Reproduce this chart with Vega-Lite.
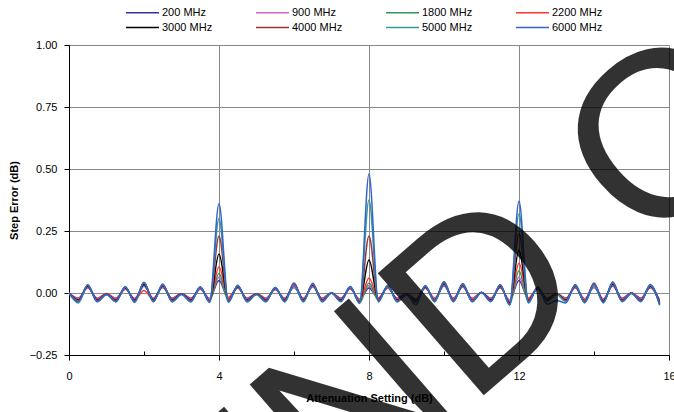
{
"$schema": "https://vega.github.io/schema/vega-lite/v6.json",
"width": 600,
"height": 310,
"autosize": {"type": "none"},
"padding": {"left": 69, "top": 45, "right": 5, "bottom": 57},
"background": "white",
"config": {"view": {"stroke": null}, "font": "Liberation Sans"},
"layer": [
{
"data": {"values": [
{"s":"200 MHz","x":0,"y":0.000},{"s":"200 MHz","x":0.25,"y":-0.021},{"s":"200 MHz","x":0.5,"y":0.021},{"s":"200 MHz","x":0.75,"y":-0.021},{"s":"200 MHz","x":1,"y":-0.004},{"s":"200 MHz","x":1.25,"y":-0.021},{"s":"200 MHz","x":1.5,"y":0.015},{"s":"200 MHz","x":1.75,"y":-0.022},{"s":"200 MHz","x":2,"y":0.027},{"s":"200 MHz","x":2.25,"y":-0.021},{"s":"200 MHz","x":2.5,"y":0.022},{"s":"200 MHz","x":2.75,"y":-0.021},{"s":"200 MHz","x":3,"y":-0.003},{"s":"200 MHz","x":3.25,"y":-0.021},{"s":"200 MHz","x":3.5,"y":0.015},{"s":"200 MHz","x":3.75,"y":-0.022},
{"s":"200 MHz","x":4,"y":0.050},{"s":"200 MHz","x":4.25,"y":-0.022},{"s":"200 MHz","x":4.5,"y":0.020},{"s":"200 MHz","x":4.75,"y":-0.021},{"s":"200 MHz","x":5,"y":-0.003},{"s":"200 MHz","x":5.25,"y":-0.021},{"s":"200 MHz","x":5.5,"y":0.014},{"s":"200 MHz","x":5.75,"y":-0.021},{"s":"200 MHz","x":6,"y":0.022},{"s":"200 MHz","x":6.25,"y":-0.021},{"s":"200 MHz","x":6.5,"y":0.025},{"s":"200 MHz","x":6.75,"y":-0.021},{"s":"200 MHz","x":7,"y":0.000},{"s":"200 MHz","x":7.25,"y":-0.021},{"s":"200 MHz","x":7.5,"y":0.016},{"s":"200 MHz","x":7.75,"y":-0.025},
{"s":"200 MHz","x":8,"y":0.020},{"s":"200 MHz","x":8.25,"y":-0.021},{"s":"200 MHz","x":8.5,"y":0.020},{"s":"200 MHz","x":8.75,"y":-0.021},{"s":"200 MHz","x":9,"y":-0.003},{"s":"200 MHz","x":9.25,"y":-0.024},{"s":"200 MHz","x":9.5,"y":0.019},{"s":"200 MHz","x":9.75,"y":-0.021},{"s":"200 MHz","x":10,"y":0.028},{"s":"200 MHz","x":10.25,"y":-0.021},{"s":"200 MHz","x":10.5,"y":0.024},{"s":"200 MHz","x":10.75,"y":-0.021},{"s":"200 MHz","x":11,"y":0.001},{"s":"200 MHz","x":11.25,"y":-0.021},{"s":"200 MHz","x":11.5,"y":0.021},{"s":"200 MHz","x":11.75,"y":-0.029},
{"s":"200 MHz","x":12,"y":0.050},{"s":"200 MHz","x":12.25,"y":-0.024},{"s":"200 MHz","x":12.5,"y":0.015},{"s":"200 MHz","x":12.75,"y":-0.021},{"s":"200 MHz","x":13,"y":-0.003},{"s":"200 MHz","x":13.25,"y":-0.021},{"s":"200 MHz","x":13.5,"y":0.021},{"s":"200 MHz","x":13.75,"y":-0.024},{"s":"200 MHz","x":14,"y":0.022},{"s":"200 MHz","x":14.25,"y":-0.024},{"s":"200 MHz","x":14.5,"y":0.028},{"s":"200 MHz","x":14.75,"y":-0.021},{"s":"200 MHz","x":15,"y":0.000},{"s":"200 MHz","x":15.25,"y":-0.021},{"s":"200 MHz","x":15.5,"y":0.021},{"s":"200 MHz","x":15.75,"y":-0.029},

{"s":"900 MHz","x":0,"y":0.000},{"s":"900 MHz","x":0.25,"y":-0.022},{"s":"900 MHz","x":0.5,"y":0.022},{"s":"900 MHz","x":0.75,"y":-0.022},{"s":"900 MHz","x":1,"y":-0.004},{"s":"900 MHz","x":1.25,"y":-0.022},{"s":"900 MHz","x":1.5,"y":0.016},{"s":"900 MHz","x":1.75,"y":-0.024},{"s":"900 MHz","x":2,"y":0.028},{"s":"900 MHz","x":2.25,"y":-0.022},{"s":"900 MHz","x":2.5,"y":0.024},{"s":"900 MHz","x":2.75,"y":-0.022},{"s":"900 MHz","x":3,"y":-0.003},{"s":"900 MHz","x":3.25,"y":-0.022},{"s":"900 MHz","x":3.5,"y":0.016},{"s":"900 MHz","x":3.75,"y":-0.024},
{"s":"900 MHz","x":4,"y":0.065},{"s":"900 MHz","x":4.25,"y":-0.024},{"s":"900 MHz","x":4.5,"y":0.021},{"s":"900 MHz","x":4.75,"y":-0.022},{"s":"900 MHz","x":5,"y":-0.003},{"s":"900 MHz","x":5.25,"y":-0.022},{"s":"900 MHz","x":5.5,"y":0.015},{"s":"900 MHz","x":5.75,"y":-0.022},{"s":"900 MHz","x":6,"y":0.024},{"s":"900 MHz","x":6.25,"y":-0.022},{"s":"900 MHz","x":6.5,"y":0.026},{"s":"900 MHz","x":6.75,"y":-0.022},{"s":"900 MHz","x":7,"y":0.000},{"s":"900 MHz","x":7.25,"y":-0.022},{"s":"900 MHz","x":7.5,"y":0.017},{"s":"900 MHz","x":7.75,"y":-0.027},
{"s":"900 MHz","x":8,"y":0.030},{"s":"900 MHz","x":8.25,"y":-0.022},{"s":"900 MHz","x":8.5,"y":0.021},{"s":"900 MHz","x":8.75,"y":-0.022},{"s":"900 MHz","x":9,"y":-0.003},{"s":"900 MHz","x":9.25,"y":-0.025},{"s":"900 MHz","x":9.5,"y":0.020},{"s":"900 MHz","x":9.75,"y":-0.022},{"s":"900 MHz","x":10,"y":0.030},{"s":"900 MHz","x":10.25,"y":-0.022},{"s":"900 MHz","x":10.5,"y":0.025},{"s":"900 MHz","x":10.75,"y":-0.022},{"s":"900 MHz","x":11,"y":0.001},{"s":"900 MHz","x":11.25,"y":-0.022},{"s":"900 MHz","x":11.5,"y":0.022},{"s":"900 MHz","x":11.75,"y":-0.031},
{"s":"900 MHz","x":12,"y":0.065},{"s":"900 MHz","x":12.25,"y":-0.025},{"s":"900 MHz","x":12.5,"y":0.016},{"s":"900 MHz","x":12.75,"y":-0.022},{"s":"900 MHz","x":13,"y":-0.003},{"s":"900 MHz","x":13.25,"y":-0.022},{"s":"900 MHz","x":13.5,"y":0.022},{"s":"900 MHz","x":13.75,"y":-0.025},{"s":"900 MHz","x":14,"y":0.024},{"s":"900 MHz","x":14.25,"y":-0.025},{"s":"900 MHz","x":14.5,"y":0.030},{"s":"900 MHz","x":14.75,"y":-0.022},{"s":"900 MHz","x":15,"y":0.000},{"s":"900 MHz","x":15.25,"y":-0.022},{"s":"900 MHz","x":15.5,"y":0.022},{"s":"900 MHz","x":15.75,"y":-0.031},

{"s":"1800 MHz","x":0,"y":0.000},{"s":"1800 MHz","x":0.25,"y":-0.034},{"s":"1800 MHz","x":0.5,"y":0.028},{"s":"1800 MHz","x":0.75,"y":-0.032},{"s":"1800 MHz","x":1,"y":-0.006},{"s":"1800 MHz","x":1.25,"y":-0.031},{"s":"1800 MHz","x":1.5,"y":0.024},{"s":"1800 MHz","x":1.75,"y":-0.034},{"s":"1800 MHz","x":2,"y":0.036},{"s":"1800 MHz","x":2.25,"y":-0.032},{"s":"1800 MHz","x":2.5,"y":0.030},{"s":"1800 MHz","x":2.75,"y":-0.032},{"s":"1800 MHz","x":3,"y":-0.005},{"s":"1800 MHz","x":3.25,"y":-0.031},{"s":"1800 MHz","x":3.5,"y":0.021},{"s":"1800 MHz","x":3.75,"y":-0.033},
{"s":"1800 MHz","x":4,"y":0.080},{"s":"1800 MHz","x":4.25,"y":-0.033},{"s":"1800 MHz","x":4.5,"y":0.027},{"s":"1800 MHz","x":4.75,"y":-0.031},{"s":"1800 MHz","x":5,"y":-0.006},{"s":"1800 MHz","x":5.25,"y":-0.032},{"s":"1800 MHz","x":5.5,"y":0.022},{"s":"1800 MHz","x":5.75,"y":-0.031},{"s":"1800 MHz","x":6,"y":0.030},{"s":"1800 MHz","x":6.25,"y":-0.032},{"s":"1800 MHz","x":6.5,"y":0.033},{"s":"1800 MHz","x":6.75,"y":-0.031},{"s":"1800 MHz","x":7,"y":0.001},{"s":"1800 MHz","x":7.25,"y":-0.031},{"s":"1800 MHz","x":7.5,"y":0.025},{"s":"1800 MHz","x":7.75,"y":-0.040},
{"s":"1800 MHz","x":8,"y":0.040},{"s":"1800 MHz","x":8.25,"y":-0.030},{"s":"1800 MHz","x":8.5,"y":0.026},{"s":"1800 MHz","x":8.75,"y":-0.032},{"s":"1800 MHz","x":9,"y":-0.006},{"s":"1800 MHz","x":9.25,"y":-0.036},{"s":"1800 MHz","x":9.5,"y":0.025},{"s":"1800 MHz","x":9.75,"y":-0.032},{"s":"1800 MHz","x":10,"y":0.037},{"s":"1800 MHz","x":10.25,"y":-0.032},{"s":"1800 MHz","x":10.5,"y":0.032},{"s":"1800 MHz","x":10.75,"y":-0.031},{"s":"1800 MHz","x":11,"y":0.001},{"s":"1800 MHz","x":11.25,"y":-0.031},{"s":"1800 MHz","x":11.5,"y":0.032},{"s":"1800 MHz","x":11.75,"y":-0.046},
{"s":"1800 MHz","x":12,"y":0.090},{"s":"1800 MHz","x":12.25,"y":-0.036},{"s":"1800 MHz","x":12.5,"y":0.020},{"s":"1800 MHz","x":12.75,"y":-0.031},{"s":"1800 MHz","x":13,"y":-0.005},{"s":"1800 MHz","x":13.25,"y":-0.031},{"s":"1800 MHz","x":13.5,"y":0.028},{"s":"1800 MHz","x":13.75,"y":-0.036},{"s":"1800 MHz","x":14,"y":0.030},{"s":"1800 MHz","x":14.25,"y":-0.035},{"s":"1800 MHz","x":14.5,"y":0.038},{"s":"1800 MHz","x":14.75,"y":-0.032},{"s":"1800 MHz","x":15,"y":-0.001},{"s":"1800 MHz","x":15.25,"y":-0.031},{"s":"1800 MHz","x":15.5,"y":0.028},{"s":"1800 MHz","x":15.75,"y":-0.044},

{"s":"2200 MHz","x":0,"y":0.000},{"s":"2200 MHz","x":0.25,"y":-0.026},{"s":"2200 MHz","x":0.5,"y":0.026},{"s":"2200 MHz","x":0.75,"y":-0.026},{"s":"2200 MHz","x":1,"y":-0.002},{"s":"2200 MHz","x":1.25,"y":-0.026},{"s":"2200 MHz","x":1.5,"y":0.019},{"s":"2200 MHz","x":1.75,"y":-0.027},{"s":"2200 MHz","x":2,"y":0.010},{"s":"2200 MHz","x":2.25,"y":-0.026},{"s":"2200 MHz","x":2.5,"y":0.027},{"s":"2200 MHz","x":2.75,"y":-0.026},{"s":"2200 MHz","x":3,"y":-0.003},{"s":"2200 MHz","x":3.25,"y":-0.026},{"s":"2200 MHz","x":3.5,"y":0.020},{"s":"2200 MHz","x":3.75,"y":-0.028},
{"s":"2200 MHz","x":4,"y":0.105},{"s":"2200 MHz","x":4.25,"y":-0.018},{"s":"2200 MHz","x":4.5,"y":0.024},{"s":"2200 MHz","x":4.75,"y":-0.026},{"s":"2200 MHz","x":5,"y":-0.003},{"s":"2200 MHz","x":5.25,"y":-0.026},{"s":"2200 MHz","x":5.5,"y":0.017},{"s":"2200 MHz","x":5.75,"y":-0.026},{"s":"2200 MHz","x":6,"y":0.030},{"s":"2200 MHz","x":6.25,"y":-0.026},{"s":"2200 MHz","x":6.5,"y":0.030},{"s":"2200 MHz","x":6.75,"y":-0.026},{"s":"2200 MHz","x":7,"y":0.000},{"s":"2200 MHz","x":7.25,"y":-0.026},{"s":"2200 MHz","x":7.5,"y":0.020},{"s":"2200 MHz","x":7.75,"y":-0.031},
{"s":"2200 MHz","x":8,"y":0.060},{"s":"2200 MHz","x":8.25,"y":-0.020},{"s":"2200 MHz","x":8.5,"y":0.024},{"s":"2200 MHz","x":8.75,"y":-0.026},{"s":"2200 MHz","x":9,"y":-0.003},{"s":"2200 MHz","x":9.25,"y":-0.029},{"s":"2200 MHz","x":9.5,"y":0.023},{"s":"2200 MHz","x":9.75,"y":-0.026},{"s":"2200 MHz","x":10,"y":0.036},{"s":"2200 MHz","x":10.25,"y":-0.026},{"s":"2200 MHz","x":10.5,"y":0.029},{"s":"2200 MHz","x":10.75,"y":-0.026},{"s":"2200 MHz","x":11,"y":0.002},{"s":"2200 MHz","x":11.25,"y":-0.026},{"s":"2200 MHz","x":11.5,"y":0.026},{"s":"2200 MHz","x":11.75,"y":-0.036},
{"s":"2200 MHz","x":12,"y":0.120},{"s":"2200 MHz","x":12.25,"y":-0.020},{"s":"2200 MHz","x":12.5,"y":0.019},{"s":"2200 MHz","x":12.75,"y":-0.026},{"s":"2200 MHz","x":13,"y":-0.003},{"s":"2200 MHz","x":13.25,"y":-0.026},{"s":"2200 MHz","x":13.5,"y":0.026},{"s":"2200 MHz","x":13.75,"y":-0.029},{"s":"2200 MHz","x":14,"y":0.034},{"s":"2200 MHz","x":14.25,"y":-0.029},{"s":"2200 MHz","x":14.5,"y":0.034},{"s":"2200 MHz","x":14.75,"y":-0.026},{"s":"2200 MHz","x":15,"y":0.000},{"s":"2200 MHz","x":15.25,"y":-0.026},{"s":"2200 MHz","x":15.5,"y":0.026},{"s":"2200 MHz","x":15.75,"y":-0.036},

{"s":"3000 MHz","x":0,"y":0.000},{"s":"3000 MHz","x":0.25,"y":-0.029},{"s":"3000 MHz","x":0.5,"y":0.028},{"s":"3000 MHz","x":0.75,"y":-0.029},{"s":"3000 MHz","x":1,"y":-0.005},{"s":"3000 MHz","x":1.25,"y":-0.029},{"s":"3000 MHz","x":1.5,"y":0.021},{"s":"3000 MHz","x":1.75,"y":-0.030},{"s":"3000 MHz","x":2,"y":0.034},{"s":"3000 MHz","x":2.25,"y":-0.029},{"s":"3000 MHz","x":2.5,"y":0.030},{"s":"3000 MHz","x":2.75,"y":-0.029},{"s":"3000 MHz","x":3,"y":-0.004},{"s":"3000 MHz","x":3.25,"y":-0.029},{"s":"3000 MHz","x":3.5,"y":0.022},{"s":"3000 MHz","x":3.75,"y":-0.033},
{"s":"3000 MHz","x":4,"y":0.157},{"s":"3000 MHz","x":4.25,"y":-0.030},{"s":"3000 MHz","x":4.5,"y":0.026},{"s":"3000 MHz","x":4.75,"y":-0.029},{"s":"3000 MHz","x":5,"y":-0.004},{"s":"3000 MHz","x":5.25,"y":-0.029},{"s":"3000 MHz","x":5.5,"y":0.019},{"s":"3000 MHz","x":5.75,"y":-0.029},{"s":"3000 MHz","x":6,"y":0.034},{"s":"3000 MHz","x":6.25,"y":-0.029},{"s":"3000 MHz","x":6.5,"y":0.033},{"s":"3000 MHz","x":6.75,"y":-0.030},{"s":"3000 MHz","x":7,"y":0.000},{"s":"3000 MHz","x":7.25,"y":-0.029},{"s":"3000 MHz","x":7.5,"y":0.024},{"s":"3000 MHz","x":7.75,"y":-0.036},
{"s":"3000 MHz","x":8,"y":0.133},{"s":"3000 MHz","x":8.25,"y":-0.028},{"s":"3000 MHz","x":8.5,"y":0.028},{"s":"3000 MHz","x":8.75,"y":-0.029},{"s":"3000 MHz","x":9,"y":-0.005},{"s":"3000 MHz","x":9.25,"y":-0.032},{"s":"3000 MHz","x":9.5,"y":0.025},{"s":"3000 MHz","x":9.75,"y":-0.031},{"s":"3000 MHz","x":10,"y":0.038},{"s":"3000 MHz","x":10.25,"y":-0.031},{"s":"3000 MHz","x":10.5,"y":0.032},{"s":"3000 MHz","x":10.75,"y":-0.031},{"s":"3000 MHz","x":11,"y":0.002},{"s":"3000 MHz","x":11.25,"y":-0.029},{"s":"3000 MHz","x":11.5,"y":0.028},{"s":"3000 MHz","x":11.75,"y":-0.040},
{"s":"3000 MHz","x":12,"y":0.173},{"s":"3000 MHz","x":12.25,"y":-0.030},{"s":"3000 MHz","x":12.5,"y":0.021},{"s":"3000 MHz","x":12.75,"y":-0.029},{"s":"3000 MHz","x":13,"y":-0.004},{"s":"3000 MHz","x":13.25,"y":-0.029},{"s":"3000 MHz","x":13.5,"y":0.028},{"s":"3000 MHz","x":13.75,"y":-0.035},{"s":"3000 MHz","x":14,"y":0.033},{"s":"3000 MHz","x":14.25,"y":-0.033},{"s":"3000 MHz","x":14.5,"y":0.036},{"s":"3000 MHz","x":14.75,"y":-0.030},{"s":"3000 MHz","x":15,"y":0.000},{"s":"3000 MHz","x":15.25,"y":-0.030},{"s":"3000 MHz","x":15.5,"y":0.028},{"s":"3000 MHz","x":15.75,"y":-0.040},

{"s":"4000 MHz","x":0,"y":0.000},{"s":"4000 MHz","x":0.25,"y":-0.031},{"s":"4000 MHz","x":0.5,"y":0.031},{"s":"4000 MHz","x":0.75,"y":-0.031},{"s":"4000 MHz","x":1,"y":-0.004},{"s":"4000 MHz","x":1.25,"y":-0.031},{"s":"4000 MHz","x":1.5,"y":0.023},{"s":"4000 MHz","x":1.75,"y":-0.032},{"s":"4000 MHz","x":2,"y":0.042},{"s":"4000 MHz","x":2.25,"y":-0.031},{"s":"4000 MHz","x":2.5,"y":0.032},{"s":"4000 MHz","x":2.75,"y":-0.031},{"s":"4000 MHz","x":3,"y":-0.004},{"s":"4000 MHz","x":3.25,"y":-0.031},{"s":"4000 MHz","x":3.5,"y":0.023},{"s":"4000 MHz","x":3.75,"y":-0.033},
{"s":"4000 MHz","x":4,"y":0.230},{"s":"4000 MHz","x":4.25,"y":-0.031},{"s":"4000 MHz","x":4.5,"y":0.028},{"s":"4000 MHz","x":4.75,"y":-0.031},{"s":"4000 MHz","x":5,"y":-0.004},{"s":"4000 MHz","x":5.25,"y":-0.031},{"s":"4000 MHz","x":5.5,"y":0.020},{"s":"4000 MHz","x":5.75,"y":-0.031},{"s":"4000 MHz","x":6,"y":0.040},{"s":"4000 MHz","x":6.25,"y":-0.031},{"s":"4000 MHz","x":6.5,"y":0.035},{"s":"4000 MHz","x":6.75,"y":-0.031},{"s":"4000 MHz","x":7,"y":0.001},{"s":"4000 MHz","x":7.25,"y":-0.031},{"s":"4000 MHz","x":7.5,"y":0.023},{"s":"4000 MHz","x":7.75,"y":-0.037},
{"s":"4000 MHz","x":8,"y":0.230},{"s":"4000 MHz","x":8.25,"y":-0.029},{"s":"4000 MHz","x":8.5,"y":0.028},{"s":"4000 MHz","x":8.75,"y":-0.031},{"s":"4000 MHz","x":9,"y":-0.004},{"s":"4000 MHz","x":9.25,"y":-0.034},{"s":"4000 MHz","x":9.5,"y":0.027},{"s":"4000 MHz","x":9.75,"y":-0.031},{"s":"4000 MHz","x":10,"y":0.045},{"s":"4000 MHz","x":10.25,"y":-0.031},{"s":"4000 MHz","x":10.5,"y":0.035},{"s":"4000 MHz","x":10.75,"y":-0.031},{"s":"4000 MHz","x":11,"y":0.003},{"s":"4000 MHz","x":11.25,"y":-0.031},{"s":"4000 MHz","x":11.5,"y":0.030},{"s":"4000 MHz","x":11.75,"y":-0.043},
{"s":"4000 MHz","x":12,"y":0.240},{"s":"4000 MHz","x":12.25,"y":-0.032},{"s":"4000 MHz","x":12.5,"y":0.023},{"s":"4000 MHz","x":12.75,"y":-0.031},{"s":"4000 MHz","x":13,"y":-0.004},{"s":"4000 MHz","x":13.25,"y":-0.031},{"s":"4000 MHz","x":13.5,"y":0.030},{"s":"4000 MHz","x":13.75,"y":-0.035},{"s":"4000 MHz","x":14,"y":0.040},{"s":"4000 MHz","x":14.25,"y":-0.035},{"s":"4000 MHz","x":14.5,"y":0.040},{"s":"4000 MHz","x":14.75,"y":-0.031},{"s":"4000 MHz","x":15,"y":0.000},{"s":"4000 MHz","x":15.25,"y":-0.031},{"s":"4000 MHz","x":15.5,"y":0.031},{"s":"4000 MHz","x":15.75,"y":-0.043},

{"s":"5000 MHz","x":0,"y":0.000},{"s":"5000 MHz","x":0.25,"y":-0.040},{"s":"5000 MHz","x":0.5,"y":0.032},{"s":"5000 MHz","x":0.75,"y":-0.036},{"s":"5000 MHz","x":1,"y":-0.007},{"s":"5000 MHz","x":1.25,"y":-0.036},{"s":"5000 MHz","x":1.5,"y":0.024},{"s":"5000 MHz","x":1.75,"y":-0.038},{"s":"5000 MHz","x":2,"y":0.040},{"s":"5000 MHz","x":2.25,"y":-0.036},{"s":"5000 MHz","x":2.5,"y":0.034},{"s":"5000 MHz","x":2.75,"y":-0.036},{"s":"5000 MHz","x":3,"y":-0.006},{"s":"5000 MHz","x":3.25,"y":-0.036},{"s":"5000 MHz","x":3.5,"y":0.023},{"s":"5000 MHz","x":3.75,"y":-0.038},
{"s":"5000 MHz","x":4,"y":0.300},{"s":"5000 MHz","x":4.25,"y":-0.037},{"s":"5000 MHz","x":4.5,"y":0.030},{"s":"5000 MHz","x":4.75,"y":-0.036},{"s":"5000 MHz","x":5,"y":-0.006},{"s":"5000 MHz","x":5.25,"y":-0.036},{"s":"5000 MHz","x":5.5,"y":0.022},{"s":"5000 MHz","x":5.75,"y":-0.036},{"s":"5000 MHz","x":6,"y":0.033},{"s":"5000 MHz","x":6.25,"y":-0.036},{"s":"5000 MHz","x":6.5,"y":0.037},{"s":"5000 MHz","x":6.75,"y":-0.036},{"s":"5000 MHz","x":7,"y":0.000},{"s":"5000 MHz","x":7.25,"y":-0.035},{"s":"5000 MHz","x":7.5,"y":0.025},{"s":"5000 MHz","x":7.75,"y":-0.042},
{"s":"5000 MHz","x":8,"y":0.375},{"s":"5000 MHz","x":8.25,"y":-0.036},{"s":"5000 MHz","x":8.5,"y":0.030},{"s":"5000 MHz","x":8.75,"y":-0.036},{"s":"5000 MHz","x":9,"y":-0.006},{"s":"5000 MHz","x":9.25,"y":-0.039},{"s":"5000 MHz","x":9.5,"y":0.028},{"s":"5000 MHz","x":9.75,"y":-0.036},{"s":"5000 MHz","x":10,"y":0.042},{"s":"5000 MHz","x":10.25,"y":-0.036},{"s":"5000 MHz","x":10.5,"y":0.035},{"s":"5000 MHz","x":10.75,"y":-0.036},{"s":"5000 MHz","x":11,"y":0.001},{"s":"5000 MHz","x":11.25,"y":-0.035},{"s":"5000 MHz","x":11.5,"y":0.033},{"s":"5000 MHz","x":11.75,"y":-0.050},
{"s":"5000 MHz","x":12,"y":0.320},{"s":"5000 MHz","x":12.25,"y":-0.040},{"s":"5000 MHz","x":12.5,"y":0.023},{"s":"5000 MHz","x":12.75,"y":-0.035},{"s":"5000 MHz","x":13,"y":-0.006},{"s":"5000 MHz","x":13.25,"y":-0.035},{"s":"5000 MHz","x":13.5,"y":0.031},{"s":"5000 MHz","x":13.75,"y":-0.040},{"s":"5000 MHz","x":14,"y":0.032},{"s":"5000 MHz","x":14.25,"y":-0.040},{"s":"5000 MHz","x":14.5,"y":0.041},{"s":"5000 MHz","x":14.75,"y":-0.035},{"s":"5000 MHz","x":15,"y":-0.002},{"s":"5000 MHz","x":15.25,"y":-0.035},{"s":"5000 MHz","x":15.5,"y":0.031},{"s":"5000 MHz","x":15.75,"y":-0.050},

{"s":"6000 MHz","x":0,"y":0.000},{"s":"6000 MHz","x":0.25,"y":-0.035},{"s":"6000 MHz","x":0.5,"y":0.033},{"s":"6000 MHz","x":0.75,"y":-0.034},{"s":"6000 MHz","x":1,"y":-0.006},{"s":"6000 MHz","x":1.25,"y":-0.034},{"s":"6000 MHz","x":1.5,"y":0.025},{"s":"6000 MHz","x":1.75,"y":-0.036},{"s":"6000 MHz","x":2,"y":0.043},{"s":"6000 MHz","x":2.25,"y":-0.034},{"s":"6000 MHz","x":2.5,"y":0.036},{"s":"6000 MHz","x":2.75,"y":-0.034},{"s":"6000 MHz","x":3,"y":-0.005},{"s":"6000 MHz","x":3.25,"y":-0.034},{"s":"6000 MHz","x":3.5,"y":0.025},{"s":"6000 MHz","x":3.75,"y":-0.036},
{"s":"6000 MHz","x":4,"y":0.360},{"s":"6000 MHz","x":4.25,"y":-0.036},{"s":"6000 MHz","x":4.5,"y":0.031},{"s":"6000 MHz","x":4.75,"y":-0.034},{"s":"6000 MHz","x":5,"y":-0.005},{"s":"6000 MHz","x":5.25,"y":-0.034},{"s":"6000 MHz","x":5.5,"y":0.022},{"s":"6000 MHz","x":5.75,"y":-0.034},{"s":"6000 MHz","x":6,"y":0.036},{"s":"6000 MHz","x":6.25,"y":-0.034},{"s":"6000 MHz","x":6.5,"y":0.039},{"s":"6000 MHz","x":6.75,"y":-0.034},{"s":"6000 MHz","x":7,"y":0.000},{"s":"6000 MHz","x":7.25,"y":-0.034},{"s":"6000 MHz","x":7.5,"y":0.026},{"s":"6000 MHz","x":7.75,"y":-0.041},
{"s":"6000 MHz","x":8,"y":0.480},{"s":"6000 MHz","x":8.25,"y":-0.034},{"s":"6000 MHz","x":8.5,"y":0.031},{"s":"6000 MHz","x":8.75,"y":-0.034},{"s":"6000 MHz","x":9,"y":-0.008},{"s":"6000 MHz","x":9.25,"y":-0.048},{"s":"6000 MHz","x":9.5,"y":0.030},{"s":"6000 MHz","x":9.75,"y":-0.034},{"s":"6000 MHz","x":10,"y":0.045},{"s":"6000 MHz","x":10.25,"y":-0.034},{"s":"6000 MHz","x":10.5,"y":0.038},{"s":"6000 MHz","x":10.75,"y":-0.034},{"s":"6000 MHz","x":11,"y":0.002},{"s":"6000 MHz","x":11.25,"y":-0.034},{"s":"6000 MHz","x":11.5,"y":0.034},{"s":"6000 MHz","x":11.75,"y":-0.047},
{"s":"6000 MHz","x":12,"y":0.370},{"s":"6000 MHz","x":12.25,"y":-0.038},{"s":"6000 MHz","x":12.5,"y":0.024},{"s":"6000 MHz","x":12.75,"y":-0.045},{"s":"6000 MHz","x":13,"y":-0.030},{"s":"6000 MHz","x":13.25,"y":-0.040},{"s":"6000 MHz","x":13.5,"y":0.034},{"s":"6000 MHz","x":13.75,"y":-0.038},{"s":"6000 MHz","x":14,"y":0.036},{"s":"6000 MHz","x":14.25,"y":-0.038},{"s":"6000 MHz","x":14.5,"y":0.045},{"s":"6000 MHz","x":14.75,"y":-0.034},{"s":"6000 MHz","x":15,"y":0.000},{"s":"6000 MHz","x":15.25,"y":-0.034},{"s":"6000 MHz","x":15.5,"y":0.034},{"s":"6000 MHz","x":15.75,"y":-0.047}
]},
"mark": {"type": "line", "interpolate": "monotone", "strokeWidth": 1.5},
"encoding": {
"x": {"field": "x", "type": "quantitative",
 "scale": {"domain": [0, 16], "nice": false, "zero": false},
 "axis": {"title": "Attenuation Setting (dB)",
  "values": [0,0.25,0.5,0.75,1,1.25,1.5,1.75,2,2.25,2.5,2.75,3,3.25,3.5,3.75,4,4.25,4.5,4.75,5,5.25,5.5,5.75,6,6.25,6.5,6.75,7,7.25,7.5,7.75,8,8.25,8.5,8.75,9,9.25,9.5,9.75,10,10.25,10.5,10.75,11,11.25,11.5,11.75,12,12.25,12.5,12.75,13,13.25,13.5,13.75,14,14.25,14.5,14.75,15,15.25,15.5,15.75,16],
  "labelExpr": "datum.value % 4 === 0 ? format(datum.value, 'd') : ''",
  "labelOverlap": false, "labelFlush": false,
  "labelFont": "Liberation Sans", "labelFontSize": 11, "labelColor": "#000000", "labelPadding": 10,
  "tickColor": "#000000",
  "tickSize": {"condition": {"test": "datum.value % 4 === 0", "value": 5}, "value": -4},
  "grid": true, "gridColor": "#888888",
  "gridOpacity": {"condition": {"test": "datum.value % 4 === 0", "value": 1}, "value": 0},
  "domainColor": "#000000",
  "titleFont": "Liberation Sans", "titleFontSize": 11, "titleFontWeight": "bold", "titleColor": "#000000", "titlePadding": 11}},
"y": {"field": "y", "type": "quantitative",
 "scale": {"domain": [-0.25, 1], "nice": false, "zero": false},
 "axis": {"title": "Step Error (dB)", "values": [-0.25, 0, 0.25, 0.5, 0.75, 1], "format": ".2f",
  "labelFont": "Liberation Sans", "labelFontSize": 11, "labelColor": "#000000", "labelPadding": 7,
  "tickSize": 5, "tickColor": "#000000", "domainColor": "#000000",
  "grid": true, "gridColor": "#888888",
  "titleFont": "Liberation Sans", "titleFontSize": 11, "titleFontWeight": "bold", "titleColor": "#000000", "titlePadding": 10}},
"color": {"field": "s", "type": "nominal",
 "scale": {"domain": ["200 MHz","900 MHz","1800 MHz","2200 MHz","3000 MHz","4000 MHz","5000 MHz","6000 MHz"],
  "range": ["#333399","#cc66cc","#339955","#ff3333","#000000","#993333","#339999","#3366cc"]},
 "legend": {"title": null, "orient": "none", "legendX": 57, "legendY": -39, "columns": 4, "direction": "horizontal",
  "symbolType": "M-3,0H3", "symbolSize": 121, "symbolStrokeWidth": 1.5, "symbolOffset": 10, "labelOffset": 13,
  "labelFont": "Liberation Sans", "labelFontSize": 11, "labelColor": "#000000",
  "columnPadding": 40, "rowPadding": 3, "gridAlign": "all", "padding": 0}}
}
},
{
"data": {"values": [{"t": "END OF LIFE"}]},
"mark": {"type": "text", "font": "Liberation Sans", "fontSize": 235, "angle": 319, "align": "left", "baseline": "alphabetic", "color": "#000000", "opacity": 0.8},
"encoding": {"text": {"field": "t"}, "x": {"datum": 4.104}, "y": {"datum": -1.327}}
}
]
}
